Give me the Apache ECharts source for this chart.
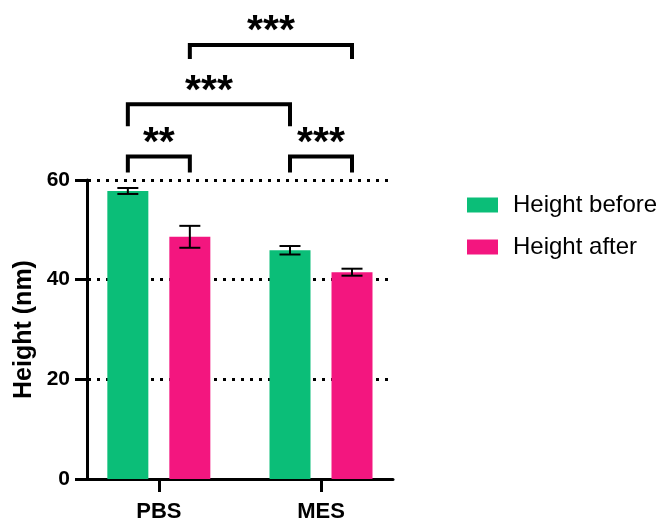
<!DOCTYPE html>
<html>
<head>
<meta charset="utf-8">
<script src="https://cdn.jsdelivr.net/npm/echarts@6/dist/echarts.min.js"></script>
<style>
html,body{margin:0;padding:0;background:#fff;}
#chart{width:663px;height:523px;}
</style>
</head>
<body>
<div id="chart"></div>
<script>
// ---- data ----
const categories = ['PBS', 'MES'];
const seriesNames = ['Height before', 'Height after'];
const beforeValues = [57.8, 45.9];
const beforeErrors = [0.6, 0.85];
const afterValues = [48.6, 41.5];
const afterErrors = [2.2, 0.7];
const yTicks = [0, 20, 40, 60];
// significance brackets (bar index = group*2 + series)
const bracketStartBar = [0, 2, 0, 1];
const bracketEndBar = [1, 3, 2, 3];
const bracketTops = [64.7, 64.7, 75.2, 87.1];
const bracketLegEnds = [61.5, 61.5, 70.8, 84.3];
const bracketLabels = ['**', '***', '***', '***'];

// ---- styles ----
const COLORS = ['#0BBE78', '#F3167F'];
const FONT = '"Liberation Sans", Arial, Helvetica, sans-serif';
const BAR_W = 41;
const BAR_OFF = 31;
const CAP_W = 21;

const chart = echarts.init(document.getElementById('chart'), null, {renderer: 'canvas'});

function barSeries(name, values, errors, sIdx) {
  return {
    name: name,
    type: 'custom',
    clip: false,
    itemStyle: {color: COLORS[sIdx]},
    encode: {x: 0, y: 1},
    data: values.map((v, i) => [i, v, errors[i]]),
    renderItem: function (params, api) {
      const gi = api.value(0), v = api.value(1), e = api.value(2);
      const off = sIdx === 0 ? -BAR_OFF : BAR_OFF;
      const top = api.coord([gi, v]);
      const base = api.coord([gi, 0]);
      const eHi = api.coord([gi, v + e]);
      const eLo = api.coord([gi, v - e]);
      const x = top[0] + off;
      const ls = {stroke: '#000', lineWidth: 2};
      return {
        type: 'group',
        children: [
          {type: 'rect', shape: {x: x - BAR_W / 2, y: top[1], width: BAR_W, height: base[1] - top[1]}, style: {fill: COLORS[sIdx]}},
          {type: 'line', shape: {x1: x, y1: eHi[1], x2: x, y2: eLo[1]}, style: ls},
          {type: 'line', shape: {x1: x - CAP_W / 2, y1: eHi[1], x2: x + CAP_W / 2, y2: eHi[1]}, style: ls},
          {type: 'line', shape: {x1: x - CAP_W / 2, y1: eLo[1], x2: x + CAP_W / 2, y2: eLo[1]}, style: ls}
        ]
      };
    }
  };
}

const bracketSeries = {
  type: 'custom',
  clip: false,
  silent: true,
  data: bracketLabels.map((l, i) => [bracketStartBar[i], bracketEndBar[i], bracketTops[i], bracketLegEnds[i], i]),
  encode: {x: 0, y: 2},
  renderItem: function (params, api) {
    const b1 = api.value(0), b2 = api.value(1), t = api.value(2), lg = api.value(3), idx = api.value(4);
    const barX = (b) => api.coord([Math.floor(b / 2), 0])[0] + (b % 2 ? BAR_OFF : -BAR_OFF);
    const x1 = barX(b1), x2 = barX(b2);
    const yt = api.coord([0, t])[1], yl = api.coord([0, lg])[1];
    return {
      type: 'group',
      children: [
        {type: 'polyline', shape: {points: [[x1, yl], [x1, yt], [x2, yt], [x2, yl]]},
         style: {stroke: '#000', lineWidth: 4, fill: null, lineJoin: 'miter'}},
        {type: 'text', x: (x1 + x2) / 2, y: yt - 13,
         style: {text: bracketLabels[idx], fill: '#000', font: 'bold 41px ' + FONT, align: 'center', verticalAlign: 'middle'}}
      ]
    };
  }
};

chart.setOption({
  animation: false,
  backgroundColor: '#fff',
  grid: {left: 87, right: 270, top: 180, bottom: 40, containLabel: false},
  legend: {
    data: seriesNames,
    orient: 'vertical',
    left: 462,
    top: 188,
    icon: 'rect',
    itemWidth: 31,
    itemHeight: 15,
    itemGap: 18,
    textStyle: {fontFamily: FONT, fontSize: 24, color: '#000', padding: [0, 0, 0, 10]}
  },
  xAxis: {
    type: 'value',
    min: -0.443,
    max: 1.444,
    splitLine: {show: false},
    axisLine: {show: true, onZero: false, lineStyle: {color: '#000', width: 3}},
    axisTick: {show: true, customValues: [0, 1], length: 13, lineStyle: {color: '#000', width: 3}},
    axisLabel: {
      customValues: [0, 1],
      formatter: (v) => categories[Math.round(v)] || '',
      color: '#000', fontFamily: FONT, fontWeight: 'bold', fontSize: 22, margin: 22
    }
  },
  yAxis: {
    type: 'value',
    min: yTicks[0],
    max: yTicks[yTicks.length - 1],
    interval: 20,
    name: 'Height (nm)',
    nameLocation: 'middle',
    nameGap: 50,
    nameTextStyle: {color: '#000', fontFamily: FONT, fontWeight: 'bold', fontSize: 25},
    axisLine: {show: true, onZero: false, lineStyle: {color: '#000', width: 3}},
    axisTick: {show: true, length: 12, lineStyle: {color: '#000', width: 3}},
    axisLabel: {color: '#000', fontFamily: FONT, fontWeight: 'bold', fontSize: 21, margin: 17},
    splitLine: {show: true, lineStyle: {color: '#000', width: 3, type: [3, 6], dashOffset: -1}}
  },
  series: [
    barSeries(seriesNames[0], beforeValues, beforeErrors, 0),
    barSeries(seriesNames[1], afterValues, afterErrors, 1),
    bracketSeries
  ]
});
</script>
</body>
</html>
